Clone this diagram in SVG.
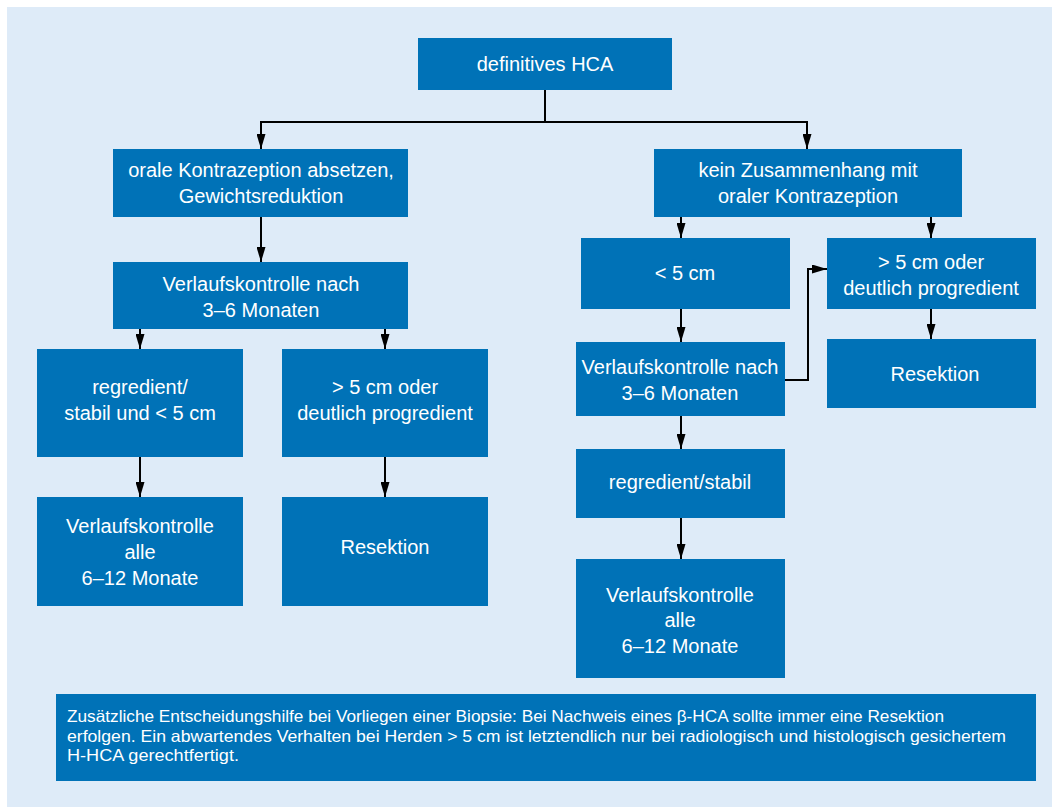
<svg xmlns="http://www.w3.org/2000/svg" width="1052" height="807" viewBox="0 0 1052 807">
<style>
.box{fill:#0072b7}
.t{font-family:"Liberation Sans",Arial,sans-serif;font-size:20px;fill:#ffffff;text-anchor:middle}
.n{font-family:"Liberation Sans",Arial,sans-serif;font-size:16.5px;fill:#ffffff}
.c{fill:none;stroke:#000000;stroke-width:2;marker-end:url(#ah)}
</style>
<defs>
<marker id="ah" viewBox="0 0 10 10" refX="10" refY="5" markerWidth="15" markerHeight="9" markerUnits="userSpaceOnUse" orient="auto" preserveAspectRatio="none">
<path d="M0,0 L10,5 L0,10 z" fill="#000000"/>
</marker>
</defs>
<rect x="7" y="7" width="1045" height="800" fill="#deebf8"/>
<g id="connectors">
<path class="c" d="M545,90 V122 H261 V149"/>
<path class="c" d="M545,122 H807 V149"/>
<path class="c" d="M261,217 V262"/>
<path class="c" d="M140,329 V349"/>
<path class="c" d="M385,329 V349"/>
<path class="c" d="M140,457 V497"/>
<path class="c" d="M385,457 V497"/>
<path class="c" d="M681,217 V238"/>
<path class="c" d="M931,217 V238"/>
<path class="c" d="M681,309 V342"/>
<path class="c" d="M931,309 V339"/>
<path class="c" d="M785,380 H808 V269 H827"/>
<path class="c" d="M681,416 V449"/>
<path class="c" d="M681,518 V559"/>
</g>
<g id="n1"><rect class="box" x="418" y="38" width="254" height="52"/><text class="t" x="545" y="71">definitives HCA</text></g>
<g id="n2"><rect class="box" x="113" y="149" width="295" height="68"/><text class="t" x="261" y="177">orale Kontrazeption absetzen,</text><text class="t" x="261" y="203">Gewichtsreduktion</text></g>
<g id="n3"><rect class="box" x="113" y="262" width="295" height="67"/><text class="t" x="261" y="291">Verlaufskontrolle nach</text><text class="t" x="261" y="317">3–6 Monaten</text></g>
<g id="n4"><rect class="box" x="37" y="349" width="206" height="108"/><text class="t" x="140" y="394">regredient/</text><text class="t" x="140" y="420">stabil und &lt; 5 cm</text></g>
<g id="n5"><rect class="box" x="282" y="349" width="206" height="108"/><text class="t" x="385" y="394">&gt; 5 cm oder</text><text class="t" x="385" y="420">deutlich progredient</text></g>
<g id="n6"><rect class="box" x="37" y="497" width="206" height="109"/><text class="t" x="140" y="533">Verlaufskontrolle</text><text class="t" x="140" y="559">alle</text><text class="t" x="140" y="585">6–12 Monate</text></g>
<g id="n7"><rect class="box" x="282" y="497" width="206" height="109"/><text class="t" x="385" y="554">Resektion</text></g>
<g id="n8"><rect class="box" x="654" y="149" width="308" height="68"/><text class="t" x="808" y="177">kein Zusammenhang mit</text><text class="t" x="808" y="203">oraler Kontrazeption</text></g>
<g id="n9"><rect class="box" x="581" y="238" width="209" height="71"/><text class="t" x="685" y="280">&lt; 5 cm</text></g>
<g id="n10"><rect class="box" x="827" y="238" width="209" height="71"/><text class="t" x="931" y="269">&gt; 5 cm oder</text><text class="t" x="931" y="295">deutlich progredient</text></g>
<g id="n11"><rect class="box" x="576" y="342" width="209" height="74"/><text class="t" x="680" y="374">Verlaufskontrolle nach</text><text class="t" x="680" y="400">3–6 Monaten</text></g>
<g id="n12"><rect class="box" x="827" y="339" width="209" height="69"/><text class="t" x="935" y="381">Resektion</text></g>
<g id="n13"><rect class="box" x="576" y="449" width="209" height="69"/><text class="t" x="680" y="489">regredient/stabil</text></g>
<g id="n14"><rect class="box" x="576" y="559" width="209" height="119"/><text class="t" x="680" y="602">Verlaufskontrolle</text><text class="t" x="680" y="627">alle</text><text class="t" x="680" y="653">6–12 Monate</text></g>
<g id="note"><rect class="box" x="56" y="694" width="980" height="87"/>
<text class="n" x="67" y="722" textLength="877" lengthAdjust="spacingAndGlyphs">Zusätzliche Entscheidungshilfe bei Vorliegen einer Biopsie: Bei Nachweis eines β-HCA sollte immer eine Resektion</text>
<text class="n" x="67" y="742" textLength="939" lengthAdjust="spacingAndGlyphs">erfolgen. Ein abwartendes Verhalten bei Herden &gt; 5 cm ist letztendlich nur bei radiologisch und histologisch gesichertem</text>
<text class="n" x="67" y="761" textLength="172" lengthAdjust="spacingAndGlyphs">H-HCA gerechtfertigt.</text>
</g>
</svg>
